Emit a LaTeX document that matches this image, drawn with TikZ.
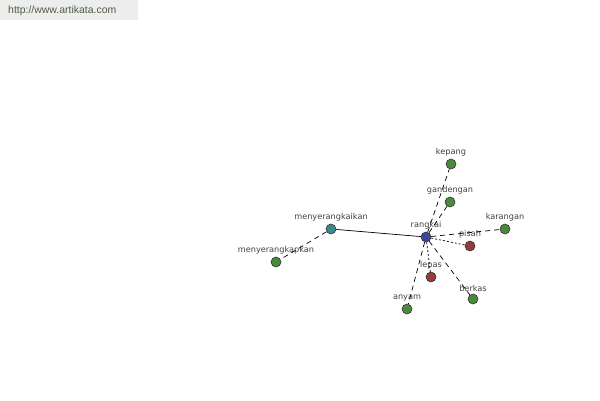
\documentclass[tikz,border=0pt]{standalone}
\usepackage{fontspec}
\setmainfont{Liberation Sans}
\newfontfamily\labelfont{DejaVu Sans}
\tikzset{
  vert/.style={circle,draw=black!80,line width=0.6bp,minimum size=10bp,inner sep=0pt},
  lbl/.style={font=\labelfont\fontsize{8.2}{8.2}\selectfont,text=black!75,inner sep=0pt},
  dashedge/.style={draw,line width=0.7bp,dash pattern=on 5bp off 4bp},
  dotedge/.style={draw,line width=0.7bp,dash pattern=on 2bp off 2bp},
}
\definecolor{vgreen}{HTML}{4A8A3C}
\definecolor{vteal}{HTML}{3A8888}
\definecolor{vblue}{HTML}{3C4796}
\definecolor{vred}{HTML}{963A3A}
\definecolor{urltext}{HTML}{4E5E3E}
\begin{document}
\begin{tikzpicture}[x=1bp,y=-1bp]
            \useasboundingbox (0,0) rectangle (600,400);
            % Site banner
            \fill[black!7] (0,0) rectangle (138,20);
            \node[anchor=west,inner sep=0pt,text=urltext,font=\fontsize{10.5}{10.5}\selectfont] (url) at (8,11) {http://www.artikata.com};
            % Draw vertices
            \node[vert,fill=vblue,label={[lbl,label distance=2bp]above:rangkai}] (rangkai) at (426,237) {};
            \node[vert,fill=vteal,label={[lbl,label distance=2bp]above:menyerangkaikan}] (menyerangkaikan) at (331,229) {};
            \node[vert,fill=vgreen,label={[lbl,label distance=2bp]above:menyerangkapkan}] (menyerangkapkan) at (276,262) {};
            \node[vert,fill=vgreen,label={[lbl,label distance=2bp]above:kepang}] (kepang) at (451,164) {};
            \node[vert,fill=vgreen,label={[lbl,label distance=2bp]above:gandengan}] (gandengan) at (450,202) {};
            \node[vert,fill=vgreen,label={[lbl,label distance=2bp]above:karangan}] (karangan) at (505,229) {};
            \node[vert,fill=vred,label={[lbl,label distance=2bp]above:pisah}] (pisah) at (470,246) {};
            \node[vert,fill=vred,label={[lbl,label distance=2bp]above:lepas}] (lepas) at (431,277) {};
            \node[vert,fill=vgreen,label={[lbl,label distance=2bp]above:berkas}] (berkas) at (473,299) {};
            \node[vert,fill=vgreen,label={[lbl,label distance=2bp]above:anyam}] (anyam) at (407,309) {};
            % Draw edges
            \draw[line width=0.7bp] (rangkai) -- (menyerangkaikan);
            \path[dashedge] (menyerangkaikan) -- (menyerangkapkan);
            \path[dashedge] (rangkai) -- (kepang);
            \path[dashedge] (rangkai) -- (gandengan);
            \path[dashedge] (rangkai) -- (karangan);
            \path[dotedge] (rangkai) -- (pisah);
            \path[dotedge] (rangkai) -- (lepas);
            \path[dashedge] (rangkai) -- (berkas);
            \path[dashedge] (rangkai) -- (anyam);
        \end{tikzpicture}
\end{document}
